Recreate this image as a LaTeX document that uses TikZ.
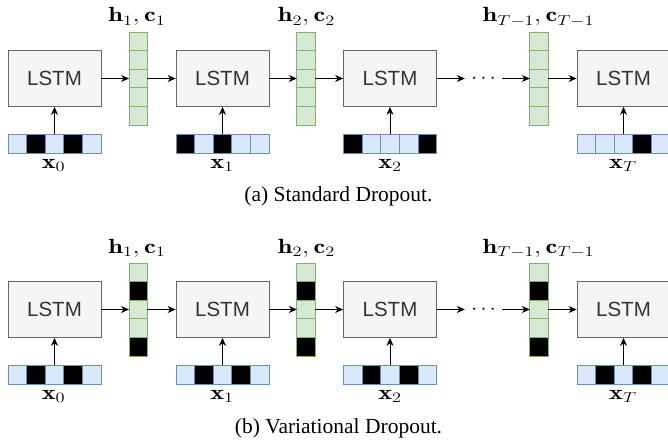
\RequirePackage{fix-cm}
\documentclass[tikz,border=0pt]{standalone}
\usepackage{fontspec}
\newfontfamily\lstmfont{Liberation Sans}
\newfontfamily\capfont{Liberation Serif}
\usetikzlibrary{arrows.meta}

\definecolor{lstmfill}{HTML}{F5F5F5}
\definecolor{lstmborder}{HTML}{666666}
\definecolor{lstmtext}{HTML}{333333}
\definecolor{infill}{HTML}{DAE8FC}
\definecolor{inborder}{HTML}{6C8EBF}
\definecolor{hidfill}{HTML}{D5E8D4}
\definecolor{hidborder}{HTML}{82B366}

\tikzstyle{lstm}=[draw=lstmborder,fill=lstmfill,line width=0.8pt,minimum width=93pt,minimum height=56pt,inner sep=0pt,text=lstmtext,font=\lstmfont\fontsize{20.5}{24}\selectfont]
\tikzstyle{incell}=[draw=inborder,fill=infill,line width=0.8pt,minimum width=18.6pt,minimum height=19pt,inner sep=0pt,outer sep=0pt]
\tikzstyle{hidcell}=[draw=hidborder,fill=hidfill,line width=0.8pt,minimum width=18.4pt,minimum height=18.6pt,inner sep=0pt,outer sep=0pt]
\tikzstyle{unit0}=[]
\tikzstyle{unit1}=[fill=black]
\tikzstyle{flow}=[draw,line width=0.8pt,-{Stealth[length=8pt,width=7pt]}]
\tikzstyle{ellip}=[inner sep=0pt,minimum width=37pt,text height=10.5pt,text depth=0pt,font=\fontsize{21}{24}\selectfont]
\tikzstyle{mathlabel}=[inner sep=0pt,font=\fontsize{20.5}{24}\selectfont]
\tikzstyle{caption}=[inner sep=0pt,font=\capfont\fontsize{21.5}{24}\selectfont]
\newcommand{\wide}[1]{\scalebox{1.28}[1]{#1}}

\begin{document}
\begin{tikzpicture}[x=1pt, y=-1pt]
    \useasboundingbox (0,0) rectangle (668,441);
    % First we draw the LSTM cells and the dots of both panels
    \foreach \p/\dy in {a/0, b/231} {
        \foreach \k/\cx in {0/54.5, 1/222.5, 2/390, T/623.5}
            \node[lstm] (\p\k) at (\cx, 78.5+\dy) {LSTM};
        \node[ellip] (\p dots) at (483.5, 78.5+\dy) {$\cdots$};
    }
    % Input vectors (1 = dropped unit)
    \foreach \p/\k/\cx/\dy/\pat in {a/0/54.5/0/{0,1,0,1,0}, a/1/222.5/0/{1,0,1,0,0}, a/2/390/0/{1,0,0,0,1}, a/T/623.5/0/{0,0,0,1,0},
                                    b/0/54.5/231/{0,1,0,1,0}, b/1/222.5/231/{0,1,0,1,0}, b/2/390/231/{0,1,0,1,0}, b/T/623.5/231/{0,1,0,1,0}}
        \foreach \d [count=\i] in \pat
            \node[incell, unit\d] (x\p\k-\i) at (\cx-55.8+18.6*\i, 143.5+\dy) {};
    % Hidden and cell states
    \foreach \p/\k/\cx/\dy/\pat in {a/1/138.2/0/{0,0,0,0,0}, a/2/306/0/{0,0,0,0,0}, a/T/539/0/{0,0,0,0,0},
                                    b/1/138.2/231/{0,1,0,0,1}, b/2/306/231/{0,1,0,0,1}, b/T/539/231/{0,1,0,0,1}}
        \foreach \d [count=\i] in \pat
            \node[hidcell, unit\d] (h\p\k-\i) at (\cx, 22.7+18.6*\i+\dy) {};
    % Connect everything
    \foreach \p in {a, b} {
        \foreach \k in {0,1,2,T}
            \path[flow] (x\p\k-3) -- (\p\k);
        \foreach \source/\dest in {\p0/h\p1-3, h\p1-3/\p1, \p1/h\p2-3, h\p2-3/\p2, \p2/\p dots, \p dots/h\p T-3, h\p T-3/\p T}
            \path[flow] (\source) -- (\dest);
    }
    % Labels
    \foreach \p/\dy in {a/0, b/231} {
        \foreach \k/\cx/\sub in {1/137/1, 2/306.5/2, T/538.5/{T-1}}
            \node[mathlabel, anchor=base] (lh\p\k) at (\cx, 22+\dy) {\wide{$\mathbf{h}_{\sub}, \mathbf{c}_{\sub}$}};
        \foreach \k/\cx in {0/53.5, 1/222, 2/390, T/623}
            \node[mathlabel, anchor=base] (lx\p\k) at (\cx, 168+\dy) {\wide{$\mathbf{x}_{\k}$}};
    }
    \node[caption, anchor=base] (capa) at (338.5, 201.5) {(a) Standard Dropout.};
    \node[caption, anchor=base] (capb) at (338.5, 433) {(b) Variational Dropout.};
\end{tikzpicture}
\end{document}
